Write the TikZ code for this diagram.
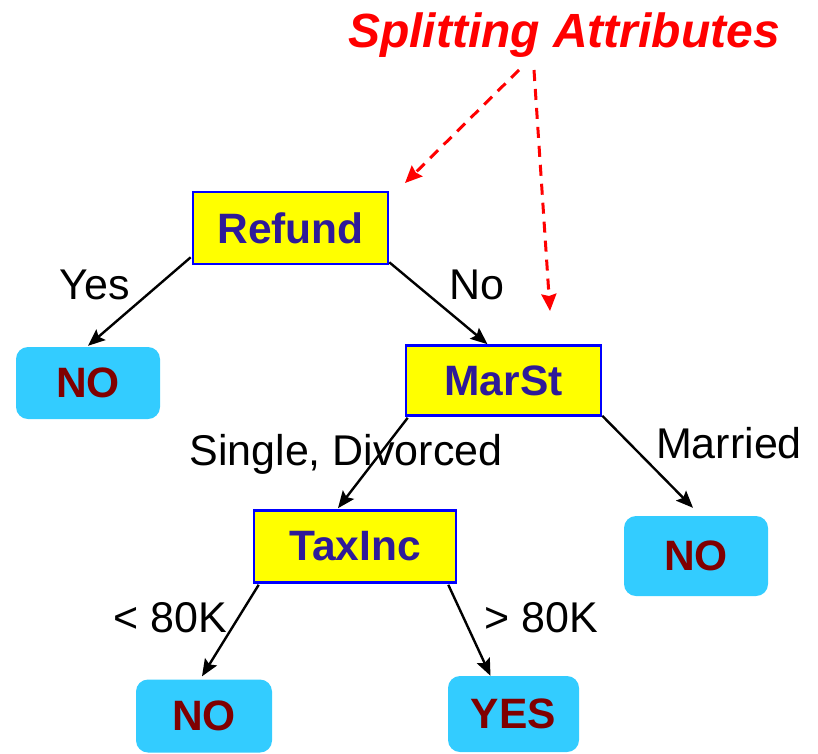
\documentclass[tikz,border=0pt]{standalone}
\usepackage{fontspec}
\setmainfont{Liberation Sans}
\usetikzlibrary{arrows.meta,calc}
\definecolor{attrfill}{RGB}{255,255,0}
\definecolor{attrdraw}{RGB}{0,0,255}
\definecolor{attrtext}{RGB}{46,26,153}
\definecolor{leaffill}{RGB}{51,204,255}
\definecolor{leaftext}{RGB}{128,0,0}
\definecolor{splitred}{RGB}{255,0,0}
\tikzset{
  attr/.style={draw=attrdraw, line width=2.6pt, fill=attrfill, text=attrtext,
    font=\fontsize{42.5}{50}\selectfont\bfseries, inner sep=0pt, anchor=center},
  leaf/.style={fill=leaffill, rounded corners=12pt, text=leaftext,
    font=\fontsize{42.5}{50}\selectfont\bfseries, inner sep=0pt, anchor=center},
  lbl/.style={font=\fontsize{43}{50}\selectfont, anchor=base, inner sep=0pt},
  edge/.style={line width=2.4pt, -{Stealth[length=17pt,width=14pt,inset=3pt]}},
  splitarrow/.style={splitred, line width=3pt, dash pattern=on 11pt off 8pt,
    -{Stealth[length=17pt,width=15pt,inset=2pt]}}
}
\begin{document}
\begin{tikzpicture}[x=1pt,y=-1pt]
\useasboundingbox (0,0) rectangle (818,753);
% attribute nodes
\node[attr, minimum width=195pt, minimum height=72pt] (refund) at (290.5,228) {Refund};
\node[attr, minimum width=195pt, minimum height=70pt] (marst) at (503.5,380.5) {MarSt};
\node[attr, minimum width=202pt, minimum height=72pt] (taxinc) at (355,546.5) {TaxInc};
% leaves
\node[leaf, minimum width=144pt, minimum height=72pt] (no1) at (88,383) {NO};
\node[leaf, minimum width=144pt, minimum height=80pt] (no2) at (696,556) {NO};
\node[leaf, minimum width=136pt, minimum height=73pt] (no3) at (204,716) {NO};
\node[leaf, minimum width=131pt, minimum height=76pt] (yes) at (513.5,714) {YES};
% title
\node[font=\fontsize{48}{56}\selectfont\bfseries\itshape, text=splitred, anchor=base, inner sep=0pt] (split) at (564,47) {Splitting Attributes};
\coordinate (sa1) at (519,70);
\coordinate (sa2) at (534,70);
\coordinate (tA) at (405,183);
\coordinate (tB) at (550,311);
\draw[splitarrow] (sa1) -- (tA);
\draw[splitarrow] (sa2) -- (tB);
% edges
\draw[edge] ($(refund.south west)+(-1,-8)$) -- ($(no1.north)+(0,-1)$);
\draw[edge] ($(refund.south east)+(0,-3)$) -- ($(marst.north)+(-16,0)$);
\draw[edge] ($(marst.south west)+(3,1)$) -- ($(taxinc.north)+(-17,-1)$);
\draw[edge] ($(marst.south east)+(0,-1)$) -- ($(no2.north)+(-3,-8)$);
\draw[edge] ($(taxinc.south west)+(6,1)$) -- ($(no3.north)+(-2,-3)$);
\draw[edge] ($(taxinc.south east)+(-9,1)$) -- ($(yes.north)+(-23,0)$);
% labels
\node[lbl] (lyes) at (95,299) {Yes};
\node[lbl] (lno) at (477,299) {No};
\node[lbl] (lsd) at (346,465) {Single, Divorced};
\node[lbl] (lmar) at (729,458) {Married};
\node[lbl] (llt) at (170,632) {< 80K};
\node[lbl] (lgt) at (541,632) {> 80K};
\end{tikzpicture}
\end{document}
